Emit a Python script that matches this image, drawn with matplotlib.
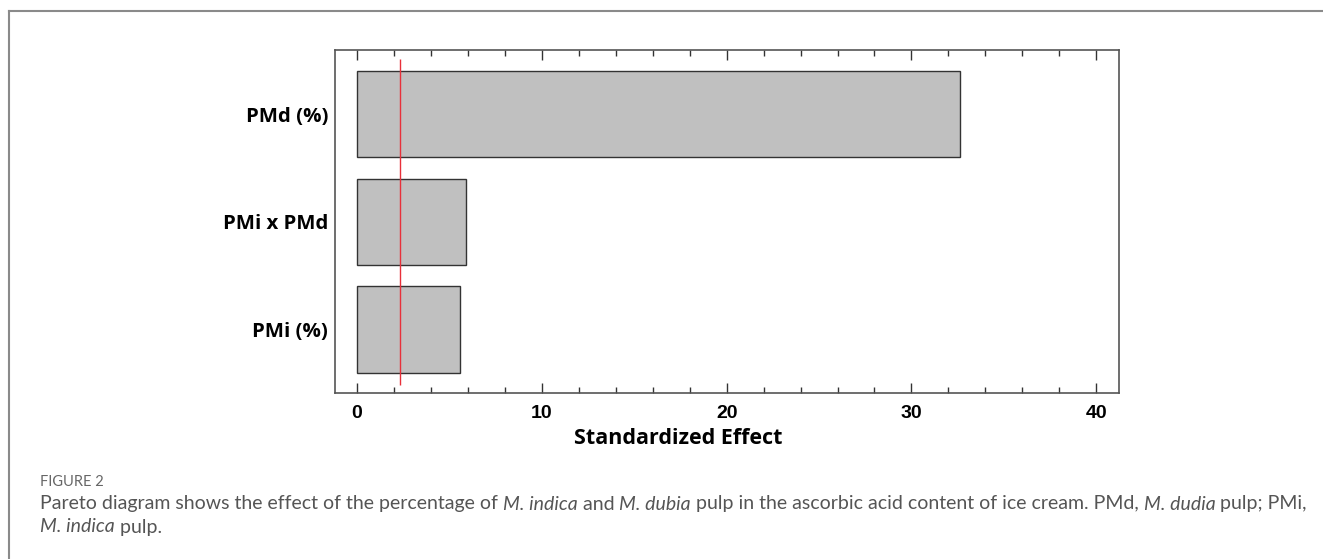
import matplotlib
matplotlib.use("Agg")
import matplotlib.pyplot as plt
from matplotlib.lines import Line2D
from matplotlib.ticker import MultipleLocator

factors = ["PMi (%)", "PMi x PMd", "PMd (%)"]
effects = [5.6, 5.9, 32.6]
t_crit = 2.31
xticks = [0, 10, 20, 30, 40]

W, H = 1323, 559
fig = plt.figure(figsize=(W / 100, H / 100), dpi=100)

# outer frame (only top and left edges are visible in the page crop)
fig.add_artist(Line2D([9 / W, 1], [1 - 11 / H, 1 - 11 / H], color="#8a8a8a", lw=1.5))
fig.add_artist(Line2D([9 / W, 9 / W], [0, 1 - 11 / H], color="#8a8a8a", lw=1.5))

ax = fig.add_axes([335 / W, 1 - 393 / H, (1119 - 335) / W, (393 - 50) / H])
ypos = list(range(len(factors)))
ax.barh(ypos, effects, height=0.8, color="#c0c0c0", edgecolor="#333333", linewidth=1)
ax.vlines(t_crit, -0.515, 2.51, color="#e8303a", linewidth=1)

ax.set_xlim(-1.19, 41.23)
ax.set_ylim(-0.59, 2.595)
ax.set_xticks(xticks)
ax.xaxis.set_minor_locator(MultipleLocator(2))
ax.tick_params(axis="x", which="major", direction="in", length=7, width=1, color="#333333",
               top=True, bottom=True, pad=9)
ax.tick_params(axis="x", which="minor", direction="in", length=4, width=1, color="#333333",
               top=True, bottom=True)
ax.tick_params(axis="y", length=0, pad=5)
ax.set_yticks(ypos)
ax.set_yticklabels(factors, fontsize=14.7, fontweight="bold", family="Open Sans")
for lab in ax.get_xticklabels():
    lab.set_fontsize(14)
    lab.set_fontweight("bold")
    lab.set_family("Liberation Sans")
for sp in ax.spines.values():
    sp.set_color("#555555")
    sp.set_linewidth(1.2)
ax.set_xlabel("Standardized Effect", fontsize=15.5, fontweight="bold", family="Open Sans")
ax.xaxis.set_label_coords((678 - 335) / (1119 - 335), -(438 - 393) / (393 - 50))
ax.xaxis.label.set_va("center")

# caption
fig.text(40 / W, 1 - 482 / H, "FIGURE 2", fontsize=10.5, color="#666666", family="Lato",
         va="center", ha="left")

cap_lines = [
    [("Pareto diagram shows the effect of the percentage of ", "normal"), ("M. indica", "italic"),
     (" and ", "normal"), ("M. dubia", "italic"),
     (" pulp in the ascorbic acid content of ice cream. PMd, ", "normal"), ("M. dudia", "italic"),
     (" pulp; PMi,", "normal")],
    [("M. indica", "italic"), (" pulp.", "normal")],
]
cap_y = [504, 527]
fig.canvas.draw()
renderer = fig.canvas.get_renderer()

# fit the first caption line to its width in the page
base = 12.0
probe = 0
for s, style in cap_lines[0]:
    t = fig.text(0, 0, s, fontsize=base, family="Lato", style=style)
    probe += t.get_window_extent(renderer).width
    t.remove()
cap_size = base * (1302 - 40) / probe

for parts, yy in zip(cap_lines, cap_y):
    x = 40
    for s, style in parts:
        t = fig.text(x / W, 1 - yy / H, s, fontsize=cap_size, color="#555555", family="Lato",
                     style=style, va="center", ha="left")
        x += t.get_window_extent(renderer).width

fig.savefig("out.png", dpi=100)
